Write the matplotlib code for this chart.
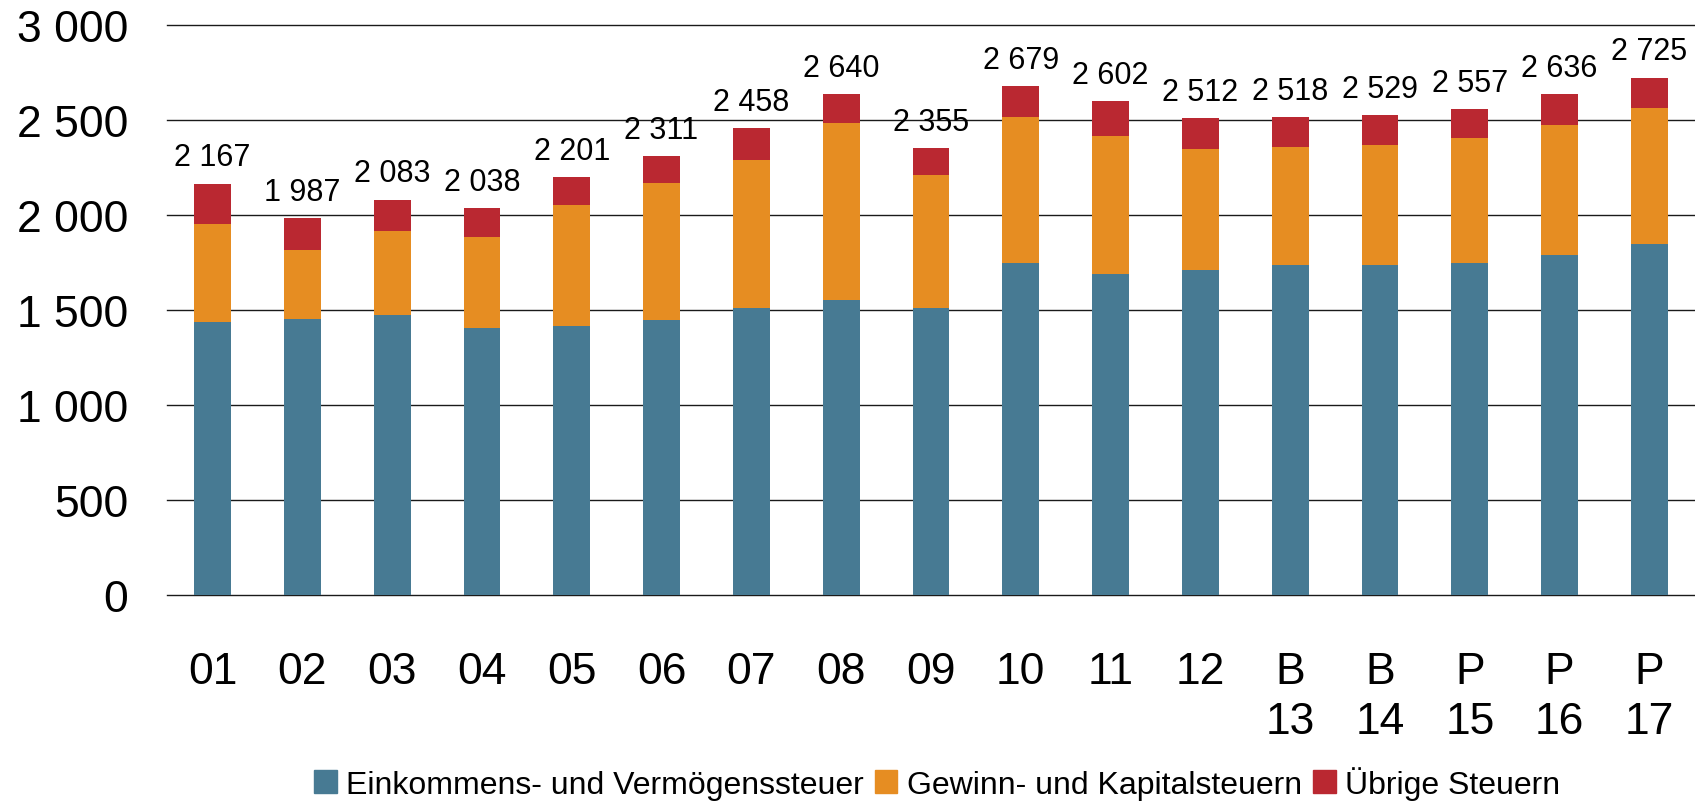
import numpy as np
import matplotlib
matplotlib.use("Agg")
import matplotlib.pyplot as plt
from matplotlib.patches import Patch

# data
labels = ["01", "02", "03", "04", "05", "06", "07", "08", "09", "10", "11", "12",
          "B\n13", "B\n14", "P\n15", "P\n16", "P\n17"]
einkommen = [1438, 1454, 1475, 1407, 1417, 1449, 1512, 1554, 1512, 1749, 1691,
             1712, 1739, 1739, 1749, 1791, 1849]
gewinn = [516, 363, 442, 479, 637, 721, 779, 932, 700, 768, 727, 637, 621, 631,
          658, 684, 716]
uebrige = [213, 170, 166, 152, 147, 141, 167, 154, 143, 162, 184, 163, 158, 159,
           150, 161, 160]
series_names = ["Einkommens- und Vermögenssteuer", "Gewinn- und Kapitalsteuern",
                "Übrige Steuern"]
colors = ["#477A93", "#E68D22", "#BA2831"]

plt.rcParams["font.family"] = ["Liberation Sans", "DejaVu Sans"]

fig = plt.figure(figsize=(16.95, 8.04), dpi=100)
ax = fig.add_axes([0.0985, 0.2583, 0.9015, 0.709])

x = np.arange(len(labels))
w = 0.41
e = np.array(einkommen)
g = np.array(gewinn)
u = np.array(uebrige)
ax.bar(x, e, w, color=colors[0], zorder=3)
ax.bar(x, g, w, bottom=e, color=colors[1], zorder=3)
ax.bar(x, u, w, bottom=e + g, color=colors[2], zorder=3)

totals = e + g + u
for xi, t in zip(x, totals):
    ax.annotate(f"{t:,}".replace(",", " "), (xi, t), xytext=(0, 8),
                textcoords="offset points", ha="center", va="bottom", fontsize=22)

ax.set_xlim(-0.507, 16.507)
ax.set_ylim(0, 3000)
ax.set_yticks(np.arange(0, 3001, 500))
ax.set_yticklabels([f"{v:,}".replace(",", " ") for v in range(0, 3001, 500)])
ax.set_xticks(x)
ax.set_xticklabels(labels, linespacing=1.3)
ax.tick_params(axis="y", length=0, pad=28, labelsize=32)
ax.tick_params(axis="x", length=0, pad=40, labelsize=32)
for lab in ax.get_xticklabels():
    lab.set_verticalalignment("top")

ax.grid(axis="y", color="#1a1a1a", linewidth=1.0, zorder=0)
for gl in ax.yaxis.get_gridlines():
    gl.set_clip_on(False)
ax.set_axisbelow(True)
for s in ax.spines.values():
    s.set_visible(False)

handles = [Patch(color=c, label=n) for c, n in zip(colors, series_names)]
fig.legend(handles=handles, loc="center", bbox_to_anchor=(0.553, 0.025),
           ncol=3, frameon=False, fontsize=23, handlelength=0.7, handleheight=0.7,
           handletextpad=0.3, columnspacing=0.35)

fig.savefig("out.png", dpi=100)
